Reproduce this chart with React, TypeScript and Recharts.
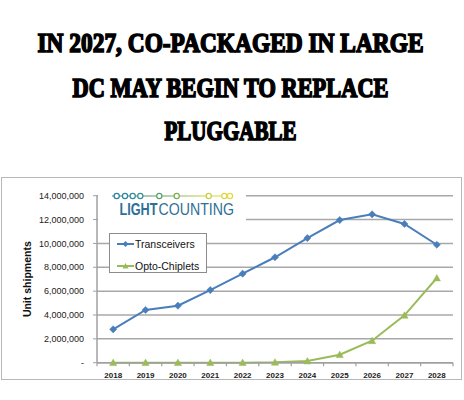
import React from 'react';
import { LineChart, Line, XAxis, YAxis, CartesianGrid, Legend, Label } from 'recharts';

const years = ['2018', '2019', '2020', '2021', '2022', '2023', '2024', '2025', '2026', '2027', '2028'];
const transceivers = [2800000, 4420000, 4780000, 6090000, 7460000, 8840000, 10450000, 11960000, 12440000, 11630000, 9890000];
const optoChiplets = [0, 0, 0, 0, 0, 30000, 140000, 670000, 1840000, 3970000, 7100000];
const yTicks = [0, 2000000, 4000000, 6000000, 8000000, 10000000, 12000000, 14000000];
const titleLines = ['IN 2027, CO-PACKAGED IN LARGE', 'DC MAY BEGIN TO REPLACE', 'PLUGGABLE'];
const seriesNames = ['Transceivers', 'Opto-Chiplets'];

const data = years.map((y, i) => ({ year: y, t: transceivers[i], o: optoChiplets[i] }));

const BLUE = '#4a7ebb';
const GREEN = '#9bbb59';
const FONT = '"Liberation Sans", Arial, sans-serif';

const fmtY = (v: number) => (v === 0 ? '-' : v.toLocaleString('en-US'));

const Diamond = (props: any) => {
  const { cx, cy, index } = props;
  if (cx == null || cy == null) return <g key={index} />;
  const s = 3.6;
  return <path key={index} d={`M${cx},${cy - s}L${cx + s},${cy}L${cx},${cy + s}L${cx - s},${cy}Z`} fill={BLUE} stroke={BLUE} strokeWidth={0.5} />;
};

const Triangle = (props: any) => {
  const { cx, cy, index } = props;
  if (cx == null || cy == null) return <g key={index} />;
  const s = 3.6;
  return <path key={index} d={`M${cx},${cy - s}L${cx + s},${cy + s * 0.8}L${cx - s},${cy + s * 0.8}Z`} fill={GREEN} stroke={GREEN} strokeWidth={0.5} />;
};

const XTick = (props: any) => {
  const { x, y, payload, index, visibleTicksCount } = props;
  const off = payload && payload.offset ? payload.offset : 16.2;
  return (
    <g>
      <line x1={x - off} x2={x - off} y1={y} y2={y + 3.5} stroke="#a0a0a0" strokeWidth={1.2} />
      {index === visibleTicksCount - 1 && (
        <line x1={x + off} x2={x + off} y1={y} y2={y + 3.5} stroke="#a0a0a0" strokeWidth={1.2} />
      )}
      <text x={x} y={y + 12.5} textAnchor="middle" dominantBaseline="central" fontSize={8} fontFamily={FONT} fill="#222" fontWeight={600}>
        {payload.value}
      </text>
    </g>
  );
};

const YLabel = (props: any) => {
  const vb = props.viewBox || { x: 0, y: 196, width: 97, height: 167 };
  const cx = 27;
  const cy = vb.y + vb.height / 2;
  return (
    <text x={cx} y={cy} transform={`rotate(-90 ${cx} ${cy})`} textAnchor="middle" dominantBaseline="central" fontSize={10.5} fontWeight="bold" fontFamily={FONT} fill="#111">
      Unit shipments
    </text>
  );
};

const LegendBox = () => (
  <div style={{ width: 98, height: 40, border: '1px solid #8c8c8c', background: '#fff', boxSizing: 'border-box', position: 'relative', fontFamily: FONT, fontSize: 10.5, color: '#111' }}>
    {seriesNames.map((name, i) => (
      <div key={name} style={{ position: 'absolute', left: 7, top: i === 0 ? 3 : 25, height: 14, display: 'flex', alignItems: 'center' }}>
        <svg width={17} height={10} style={{ display: 'block' }}>
          <line x1={0} x2={17} y1={5} y2={5} stroke={i === 0 ? BLUE : GREEN} strokeWidth={2} />
          {i === 0 ? (
            <path d="M8.5,2L11.5,5L8.5,8L5.5,5Z" fill={BLUE} />
          ) : (
            <path d="M8.5,2L11.5,7.5L5.5,7.5Z" fill={GREEN} />
          )}
        </svg>
        <span style={{ marginLeft: 1 }}>{name}</span>
      </div>
    ))}
  </div>
);

const chainX = [116.7, 125, 132.7, 140.3, 159.3, 176.7, 208.7, 224.3, 230];
const chainColors = ['#2f7fa3', '#2f84a0', '#35899a', '#3c8d92', '#5ba06a', '#79ad55', '#c9cf45', '#dcd640', '#e3da3c'];

const Logo = () => {
  const sy = 1.25;
  return (
    <svg width={464} height={400} style={{ position: 'absolute', left: 0, top: 0, pointerEvents: 'none' }}>
      <rect x={98} y={186} width={148} height={38} fill="#fff" />
      <defs>
        <linearGradient id="chain" gradientUnits="userSpaceOnUse" x1={112} x2={233} y1={196} y2={196}>
          <stop offset="0%" stopColor="#2f7fa3" />
          <stop offset="40%" stopColor="#5fa265" />
          <stop offset="75%" stopColor="#c6cf46" />
          <stop offset="100%" stopColor="#e6dc3c" />
        </linearGradient>
      </defs>
      <line x1={112} x2={233} y1={196} y2={196} stroke="url(#chain)" strokeWidth={1.2} />
      {chainX.map((x, i) => (
        <circle key={i} cx={x} cy={196} r={2.6} fill="#fff" stroke={chainColors[i]} strokeWidth={1.2} />
      ))}
      <g transform={`scale(1 ${sy})`}>
        <text x={119.5} y={215 / sy} fontFamily={FONT} fontSize={13} fontWeight="bold" fill="#2d6f97" textLength={38} lengthAdjust="spacingAndGlyphs">
          LIGHT
        </text>
        <text x={158.5} y={215 / sy} fontFamily={FONT} fontSize={13} fill="#2d6f97" textLength={75.5} lengthAdjust="spacingAndGlyphs">
          COUNTING
        </text>
      </g>
    </svg>
  );
};

const Title = () => {
  const ys = [51.7, 96.7, 140];
  const lens = [386, 316, 132];
  const sy = 1.26;
  return (
    <svg width={464} height={170} style={{ position: 'absolute', left: 0, top: 0 }}>
      {titleLines.map((t, i) => (
        <text key={i} x={230.5} y={ys[i] / sy} transform={`scale(1 ${sy})`} textAnchor="middle" fontFamily='"Liberation Serif", serif' fontWeight="bold" fontSize={22} fill="#000" stroke="#000" strokeWidth={1.3} textLength={lens[i]} lengthAdjust="spacingAndGlyphs">
          {t}
        </text>
      ))}
    </svg>
  );
};

export default function App() {
  return (
    <div style={{ position: 'absolute', left: 0, top: 0, width: 464, height: 400, background: '#fff', overflow: 'hidden' }}>
      <Title />
      <div style={{ position: 'absolute', left: 1, top: 177, width: 461, height: 203, border: '1px solid #b8b8b8', boxSizing: 'border-box' }} />
      <div style={{ position: 'absolute', left: 0, top: 0 }}>
        <LineChart width={464} height={400} data={data} margin={{ top: 195.7, right: 11, bottom: 17.3, left: 0 }}>
          <CartesianGrid vertical={false} stroke="#a8a8a8" strokeWidth={1.5} />
          <XAxis dataKey="year" scale="band" height={20} axisLine={{ stroke: '#a0a0a0', strokeWidth: 1.5 }} tickLine={false} tickSize={0} tickMargin={0} tick={<XTick />} interval={0} />
          <YAxis width={97} domain={[0, 14000000]} ticks={yTicks} tickFormatter={fmtY} axisLine={{ stroke: '#a0a0a0', strokeWidth: 1.5 }} tickLine={{ stroke: '#a0a0a0' }} tickSize={4} tickMargin={9} tick={{ fontSize: 9, fill: '#222', fontFamily: FONT }} interval={0}>
            <Label content={<YLabel />} />
          </YAxis>
          <Legend verticalAlign="middle" align="center" layout="horizontal" content={<LegendBox />} wrapperStyle={{ left: 109, top: 233, width: 100, height: 42 }} />
          <Line dataKey="t" name={seriesNames[0]} stroke={BLUE} strokeWidth={2} dot={Diamond} activeDot={false} isAnimationActive={false} />
          <Line dataKey="o" name={seriesNames[1]} stroke={GREEN} strokeWidth={2} dot={Triangle} activeDot={false} isAnimationActive={false} />
        </LineChart>
      </div>
      <Logo />
    </div>
  );
}
